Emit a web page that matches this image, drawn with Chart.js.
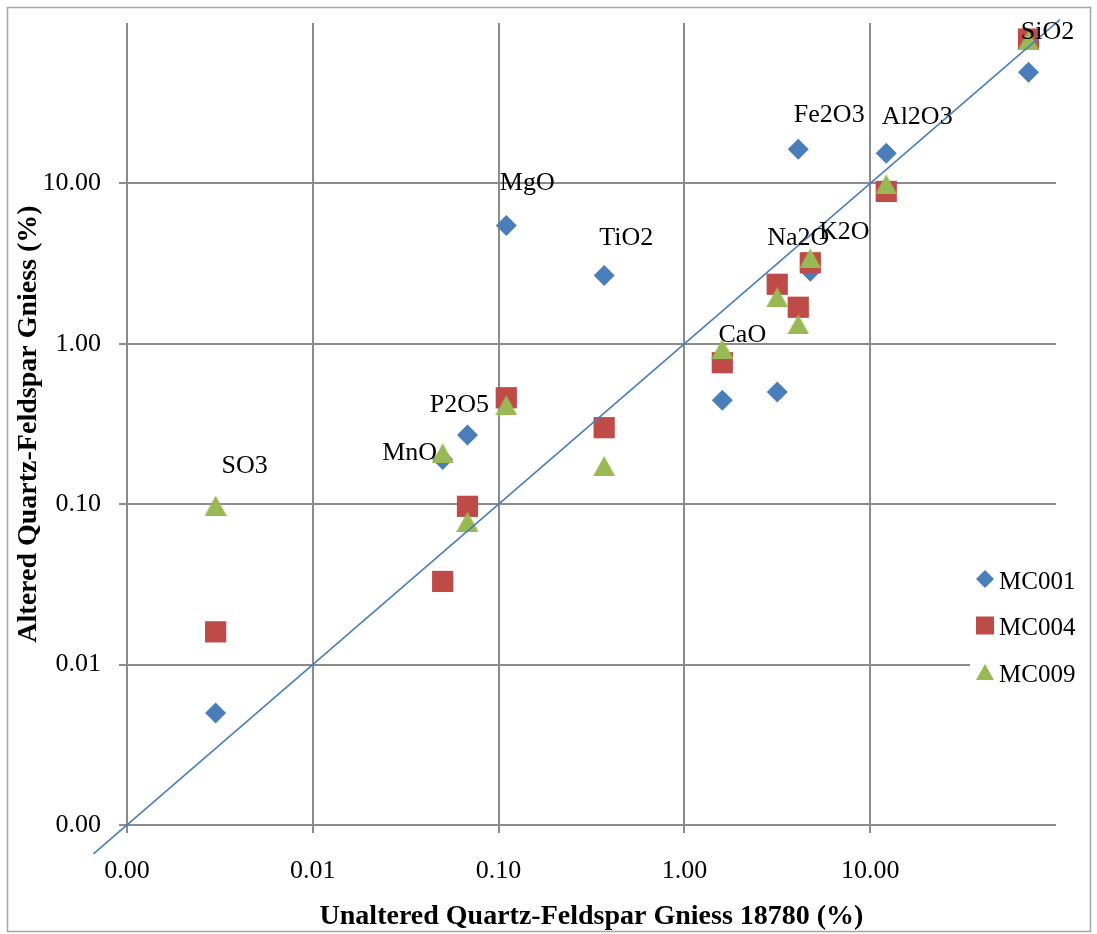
<!DOCTYPE html>
<html>
<head>
<meta charset="utf-8">
<title>Altered vs unaltered quartz-feldspar gneiss</title>
<script src="https://cdn.jsdelivr.net/npm/chart.js@4.4.1/dist/chart.umd.min.js"></script>
<style>
  html, body { margin: 0; padding: 0; background: #fff; }
  canvas { display: block; }
</style>
</head>
<body>
<canvas id="gneissChart" width="1097" height="934"></canvas>
<script>
// Oxide concentrations (wt %), unaltered sample 18780 against three altered samples
const oxides = ['SO3', 'MnO', 'P2O5', 'MgO', 'TiO2', 'CaO', 'Na2O', 'Fe2O3', 'K2O', 'Al2O3', 'SiO2'];
const unaltered18780 = [0.003, 0.050, 0.068, 0.11, 0.37, 1.60, 3.16, 4.10, 4.76, 12.2, 71.1];
const mc001 = [0.005, 0.19, 0.27, 5.47, 2.67, 0.444, 0.50, 16.3, 2.83, 15.4, 49.4];
const mc004 = [0.016, 0.033, 0.097, 0.461, 0.30, 0.762, 2.35, 1.69, 3.20, 8.91, 79.4];
const mc009 = [0.098, 0.208, 0.078, 0.414, 0.173, 0.931, 1.95, 1.32, 3.41, 9.86, 77.8];

// 1:1 line (no change)
const oneToOneX = [0.00066, 105];
const oneToOneY = [0.00066, 105];

// axis ticks
const tickValues = [0.001, 0.01, 0.1, 1, 10];
const tickLabels = ['0.00', '0.01', '0.10', '1.00', '10.00'];

const FONT = 'Liberation Serif';
const GRID = '#8c8c8c';
const BLUE = '#4a7ebb';
const RED = '#be4b48';
const GREEN = '#98b954';

// label placement, pixels from the highest marker of each oxide
const labelOffsets = {
  SO3: [29, -39], MnO: [-33, 0], P2O5: [-8, -30], MgO: [21, -42], TiO2: [22, -37],
  CaO: [20, -14], Na2O: [21, -46], Fe2O3: [31, -34], K2O: [34, -26], Al2O3: [31, -36], SiO2: [19, -7]
};

function toPoints(ys) {
  return unaltered18780.map((x, i) => ({ x: x, y: ys[i] }));
}

// Excel-like triangle, centred on its bounding box
function triangleMarker(w, h, color) {
  const c = document.createElement('canvas');
  c.width = w;
  c.height = h;
  const g = c.getContext('2d');
  g.fillStyle = color;
  g.beginPath();
  g.moveTo(w / 2, 0);
  g.lineTo(w, h);
  g.lineTo(0, h);
  g.closePath();
  g.fill();
  return c;
}

function drawLegendMarker(ctx, kind, x, y, color) {
  ctx.fillStyle = color;
  ctx.beginPath();
  if (kind === 'diamond') {
    ctx.moveTo(x, y - 9); ctx.lineTo(x + 9, y); ctx.lineTo(x, y + 9); ctx.lineTo(x - 9, y);
  } else if (kind === 'square') {
    ctx.rect(x - 9, y - 9, 18, 18);
  } else {
    ctx.moveTo(x, y - 8); ctx.lineTo(x + 9, y + 8); ctx.lineTo(x - 9, y + 8);
  }
  ctx.closePath();
  ctx.fill();
}

// white background and thin frame round the whole chart
const chartFrame = {
  id: 'chartFrame',
  beforeDraw(chart) {
    const ctx = chart.ctx;
    ctx.save();
    ctx.fillStyle = '#fff';
    ctx.fillRect(0, 0, chart.width, chart.height);
    ctx.strokeStyle = '#a6a6a6';
    ctx.lineWidth = 1.5;
    ctx.strokeRect(7.5, 7.5, 1083, 924);
    ctx.restore();
  }
};

// oxide names next to their points
const oxideLabels = {
  id: 'oxideLabels',
  afterDatasetsDraw(chart) {
    const ctx = chart.ctx;
    const xs = chart.scales.x;
    const ys = chart.scales.y;
    ctx.save();
    ctx.font = '26px "' + FONT + '"';
    ctx.fillStyle = '#000';
    ctx.textAlign = 'center';
    ctx.textBaseline = 'middle';
    oxides.forEach((name, i) => {
      const top = Math.max(mc001[i], mc004[i], mc009[i]);
      const px = xs.getPixelForValue(unaltered18780[i]);
      const py = ys.getPixelForValue(top);
      const off = labelOffsets[name];
      ctx.fillText(name, px + off[0], py + off[1]);
    });
    ctx.restore();
  }
};

// legend sitting over the right edge of the plot
const sideLegend = {
  id: 'sideLegend',
  afterDraw(chart) {
    const ctx = chart.ctx;
    const items = [
      { text: 'MC001', kind: 'diamond', color: BLUE },
      { text: 'MC004', kind: 'square', color: RED },
      { text: 'MC009', kind: 'triangle', color: GREEN }
    ];
    ctx.save();
    ctx.fillStyle = '#fff';
    ctx.fillRect(970, 556, 116, 142);
    ctx.font = '25px "' + FONT + '"';
    ctx.textAlign = 'left';
    ctx.textBaseline = 'middle';
    items.forEach((item, i) => {
      const y = 582 + i * 46.5;
      drawLegendMarker(ctx, item.kind, 985, y - 3, item.color);
      ctx.fillStyle = '#000';
      ctx.fillText(item.text, 999, y);
    });
    ctx.restore();
  }
};

function logAxis(titleText, fitSize, tickPadding, titlePadding) {
  return {
    type: 'logarithmic',
    min: 0.001,
    max: 100,
    afterBuildTicks: function(scale) {
      scale.ticks = tickValues.map(v => ({ value: v }));
    },
    afterFit: function(scale) {
      fitSize(scale);
      // no extra room for the end labels, the plot edges are fixed by layout padding
      scale.paddingTop = 0;
      scale.paddingBottom = 0;
      scale.paddingLeft = 0;
      scale.paddingRight = 0;
    },
    ticks: {
      callback: (value, index) => tickLabels[index],
      autoSkip: false,
      maxRotation: 0,
      padding: tickPadding,
      color: '#000',
      font: { family: FONT, size: 26 }
    },
    grid: { color: GRID, lineWidth: 2, tickLength: 8 },
    border: { display: false },
    title: {
      display: true,
      text: titleText,
      color: '#000',
      padding: titlePadding,
      font: { family: FONT, size: 28, weight: 'bold' }
    }
  };
}

const triangle = triangleMarker(22, 20, GREEN);

new Chart(document.getElementById('gneissChart'), {
  type: 'scatter',
  data: {
    datasets: [
      {
        label: '1:1',
        data: oneToOneX.map((x, i) => ({ x: x, y: oneToOneY[i] })),
        showLine: true,
        borderColor: BLUE,
        borderWidth: 1.6,
        pointRadius: 0,
        clip: false,
        order: 0
      },
      {
        label: 'MC009',
        data: toPoints(mc009),
        pointStyle: triangle,
        pointRadius: 11,
        backgroundColor: GREEN,
        order: 1
      },
      {
        label: 'MC004',
        data: toPoints(mc004),
        pointStyle: 'rect',
        pointRadius: 15,
        pointBorderWidth: 0,
        backgroundColor: RED,
        order: 2
      },
      {
        label: 'MC001',
        data: toPoints(mc001),
        pointStyle: 'rectRot',
        pointRadius: 10.5,
        pointBorderWidth: 0,
        backgroundColor: BLUE,
        order: 3
      }
    ]
  },
  options: {
    responsive: false,
    animation: false,
    events: [],
    layout: { padding: { top: 23, right: 41, bottom: 0, left: 0 } },
    plugins: {
      legend: { display: false },
      tooltip: { enabled: false }
    },
    scales: {
      x: logAxis('Unaltered Quartz-Feldspar Gniess 18780 (%)', s => { s.height = 109; }, 23, { top: 0, bottom: 0 }),
      y: logAxis('Altered Quartz-Feldspar Gniess (%)', s => { s.width = 127; }, 18, { top: 12, bottom: 0 })
    }
  },
  plugins: [chartFrame, oxideLabels, sideLegend]
});
</script>
</body>
</html>
